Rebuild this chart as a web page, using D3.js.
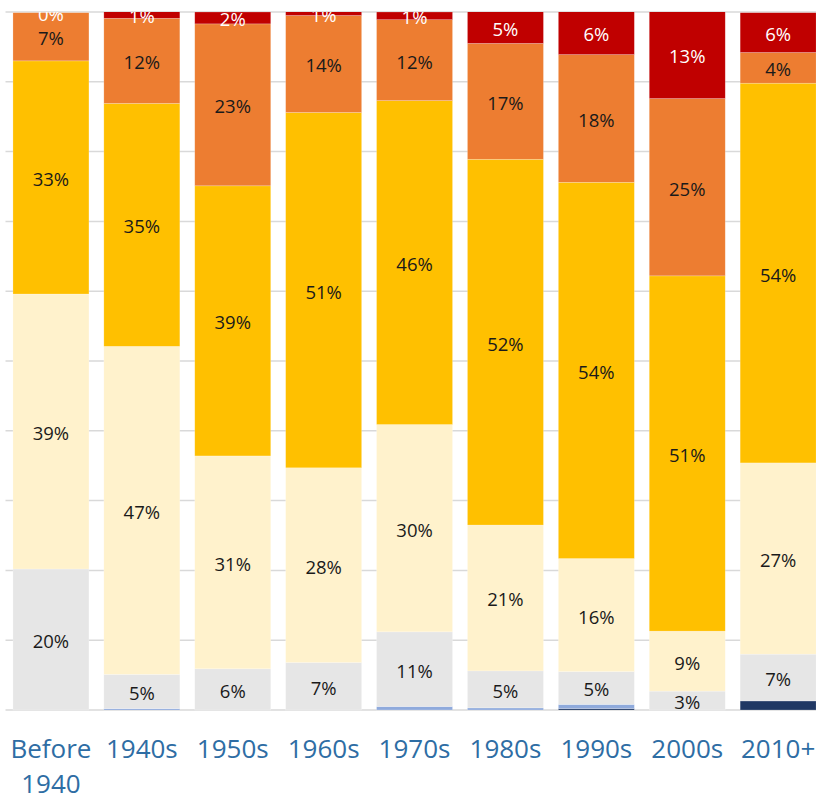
<!DOCTYPE html>
<html>
<head>
<meta charset="utf-8">
<script src="https://cdn.jsdelivr.net/npm/d3@7"></script>
<style>
  body { margin: 0; background: #fff; }
  svg { display: block; font-family: "Open Sans", "Noto Sans", sans-serif; }
</style>
</head>
<body>
<div id="chart"></div>
<script>
// share of stock by period built, percent (bottom to top)
const periods = ["Before 1940", "1940s", "1950s", "1960s", "1970s", "1980s", "1990s", "2000s", "2010+"];
const seriesNames = ["s1", "s2", "s3", "s4", "s5", "s6", "s7"];
const navy   = [0,   0,   0,   0,   0,   0,   0.2, 0,    1.3];
const ltblue = [0,   0.2, 0,   0,   0.5, 0.3, 0.6, 0,    0];
const grey   = [20.2, 4.9, 5.9, 6.8, 10.7, 5.3, 4.7, 2.7, 6.7];
const cream  = [39.4, 47.0, 30.5, 27.9, 29.7, 20.9, 16.2, 8.6, 27.4];
const gold   = [33.4, 34.8, 38.7, 50.9, 46.4, 52.4, 53.9, 50.9, 54.4];
const orange = [6.9, 12.2, 23.2, 13.9, 11.6, 16.6, 18.3, 25.4, 4.4];
const red    = [0.0, 1.0, 1.7, 0.6, 1.1, 4.6, 6.2, 12.6, 5.7];
const colors = ["#203864", "#8faadc", "#e6e6e6", "#fff2cc", "#ffc000", "#ed7d31", "#c00000"];
const labelled = [false, false, true, true, true, true, true];

const width = 816, height = 800;
const margin = {top: 12, bottom: 90};

const rows = periods.map((p, i) => ({
  period: p,
  s1: navy[i], s2: ltblue[i], s3: grey[i], s4: cream[i],
  s5: gold[i], s6: orange[i], s7: red[i]
}));

const stack = d3.stack().keys(seriesNames)(rows);

const x = d3.scaleBand()
  .domain(periods)
  .range([5.5, 823.6])
  .paddingInner(0.164)
  .paddingOuter(0.082);

const y = d3.scaleLinear()
  .domain([0, 100])
  .range([height - margin.bottom, margin.top]);

const svg = d3.select("#chart").append("svg")
  .attr("width", width)
  .attr("height", height);

svg.append("clipPath").attr("id", "plot")
  .append("rect")
  .attr("x", 0).attr("y", margin.top)
  .attr("width", width).attr("height", y(0) - margin.top + 1);

// gridlines
svg.append("g")
  .selectAll("line")
  .data(d3.range(0, 101, 10))
  .join("line")
  .attr("x1", x.range()[0]).attr("x2", width)
  .attr("y1", d => y(d)).attr("y2", d => y(d))
  .attr("stroke", "#d9d9d9")
  .attr("stroke-width", 1.5);

const layers = svg.append("g").attr("clip-path", "url(#plot)")
  .selectAll("g")
  .data(stack)
  .join("g")
  .attr("fill", (d, i) => colors[i]);

layers.selectAll("rect")
  .data(d => d)
  .join("rect")
  .attr("x", d => x(d.data.period))
  .attr("width", x.bandwidth())
  .attr("y", d => y(d[1]))
  .attr("height", d => y(d[0]) - y(d[1]))
  .attr("stroke", "rgba(255,255,255,0.35)")
  .attr("stroke-width", 0.6);

// data labels
const fmt = v => Math.round(v) + "%";
const lab = svg.append("g").attr("clip-path", "url(#plot)");
stack.forEach((s, i) => {
  if (!labelled[i]) return;
  lab.append("g")
    .selectAll("text")
    .data(s)
    .join("text")
    .attr("x", d => x(d.data.period) + x.bandwidth() / 2)
    .attr("y", d => (y(d[0]) + y(d[1])) / 2 + 2)
    .attr("dy", "0.35em")
    .attr("text-anchor", "middle")
    .attr("font-size", 18.5)
    .attr("fill", i === 6 ? "#ffffff" : "#1a1a1a")
    .text(d => fmt(d[1] - d[0]));
});

// x axis labels
const xl = svg.append("g")
  .selectAll("text")
  .data(periods)
  .join("text")
  .attr("x", d => x(d) + x.bandwidth() / 2)
  .attr("y", 758)
  .attr("text-anchor", "middle")
  .attr("font-size", 26)
  .attr("fill", "#2e6da4");

xl.each(function (d) {
  const parts = d === "Before 1940" ? ["Before", "1940"] : [d];
  d3.select(this).selectAll("tspan")
    .data(parts)
    .join("tspan")
    .attr("x", x(d) + x.bandwidth() / 2)
    .attr("dy", (p, j) => j === 0 ? 0 : 35)
    .text(p => p);
});
</script>
</body>
</html>
